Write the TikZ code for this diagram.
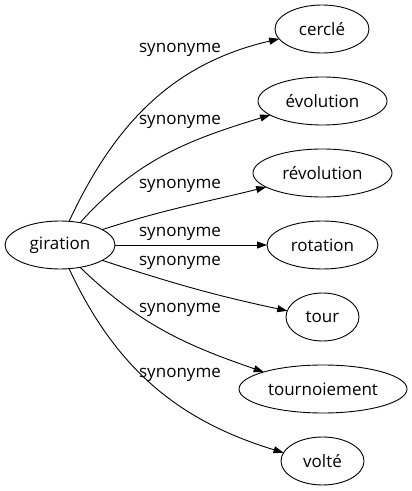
\documentclass[tikz,border=0pt]{standalone}
\usepackage{fontspec}
\setmainfont{Open Sans}
\usetikzlibrary{shapes.geometric,arrows.meta}
\begin{document}
\begin{tikzpicture}[x=1pt,y=1pt,inner sep=0pt,outer sep=0pt,line width=0.9pt,
font=\fontsize{17}{20}\selectfont,>={Triangle[length=10pt,width=7pt]},
word/.style={draw,ellipse,inner sep=0pt,minimum height=48pt,minimum width=#1,line width=0.9pt}]
\useasboundingbox (0,0) rectangle (412,491);
\draw (60,246) node[word=110] (gir) {giration};
\draw (322,462) node[word=94] (cer) {cerclé};
\draw (322.5,390) node[word=129] (evo) {évolution};
\draw (322.5,318) node[word=139] (rev) {révolution};
\draw (322.5,246) node[word=111] (rot) {rotation};
\draw (322.5,174) node[word=73] (tou) {tour};
\draw (323,102) node[word=168] (tno) {tournoiement};
\draw (322.5,30) node[word=83] (vol) {volté};

\draw[->] (gir.69) to[out=65,in=193] (cer.193);
\draw[->] (gir.48) to[out=48,in=197] (evo.195);
\draw[->] (gir.20) to[out=18,in=194] (rev.194);
\draw[->] (gir) -- (rot);
\draw[->] (gir.-20) to[out=-18,in=168] (tou.170);
\draw[->] (gir.-48) to[out=-44,in=161] (tno.164);
\draw[->] (gir.-69) to[out=-65,in=163] (vol.168);

\draw (180,441) node (s1) {synonyme};
\draw (180,369) node (s2) {synonyme};
\draw (180,305) node (s3) {synonyme};
\draw (180,257) node (s4) {synonyme};
\draw (180,228) node (s5) {synonyme};
\draw (180,181) node (s6) {synonyme};
\draw (180,116) node (s7) {synonyme};
\end{tikzpicture}
\end{document}
